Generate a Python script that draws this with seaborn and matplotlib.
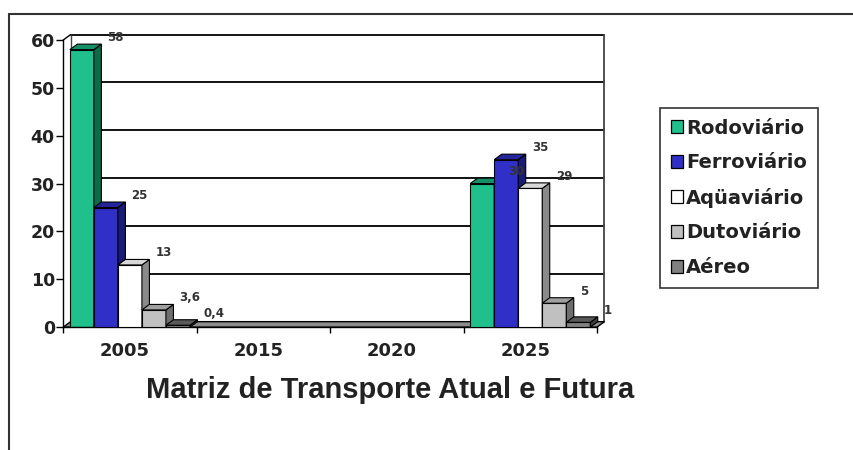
import numpy as np
import pandas as pd
import matplotlib
matplotlib.use("Agg")
import matplotlib.pyplot as plt
import matplotlib.transforms as mtransforms
import seaborn as sns
from matplotlib.patches import Polygon
from matplotlib.lines import Line2D

# Transport matrix: share (%) by mode, current and future
years = ["2005", "2015", "2020", "2025"]
modes = ["Rodoviário", "Ferroviário", "Aqüaviário", "Dutoviário", "Aéreo"]
rodoviario = [58, np.nan, np.nan, 30]
ferroviario = [25, np.nan, np.nan, 35]
aquaviario = [13, np.nan, np.nan, 29]
dutoviario = [3.6, np.nan, np.nan, 5]
aereo = [0.4, np.nan, np.nan, 1]
series = [rodoviario, ferroviario, aquaviario, dutoviario, aereo]
y_ticks = [0, 10, 20, 30, 40, 50, 60]

front_colors = ["#1fc08c", "#3030c8", "#ffffff", "#c0c0c0", "#808080"]
side_colors = ["#0f6a4a", "#1a1a78", "#8a8a8a", "#6e6e6e", "#3c3c3c"]
top_colors = ["#158f66", "#24249c", "#d8d8d8", "#a0a0a0", "#5a5a5a"]

rows = []
for m, vals in zip(modes, series):
    for y, v in zip(years, vals):
        if not np.isnan(v):
            rows.append({"Ano": y, "Modal": m, "Valor": v})
df = pd.DataFrame(rows)

sns.set_theme(style="white")
plt.rcParams["font.family"] = ["Liberation Sans", "DejaVu Sans"]
wide = ["DejaVu Sans"]

fig = plt.figure(figsize=(8.54, 4.5), dpi=100)
ax = fig.add_axes([0.074, 0.273, 0.625, 0.638])

sns.barplot(data=df, x="Ano", y="Valor", hue="Modal", order=years,
            hue_order=modes, palette=front_colors, width=0.9, saturation=1,
            edgecolor="black", linewidth=0.8, legend=False, ax=ax,
            errorbar=None)

ax.set_xlim(-0.5, 3.5)
ax.set_ylim(0, 60)
ax.set_yticks(y_ticks)

# depth of the 3D effect, converted from pixels to data units
fig.canvas.draw()
inv = ax.transData.inverted()
p0 = inv.transform(ax.transData.transform((0, 0)))
p1 = inv.transform(ax.transData.transform((0, 0)) + np.array([7.5, 5.5]))
dx, dy = p1 - p0
px = inv.transform(ax.transData.transform((0, 0)) + np.array([6, 0]))[0] - p0[0]

# back wall and floor
for t in y_ticks[1:]:
    ax.add_line(Line2D([-0.5 + dx, 3.5 + dx], [t + dy, t + dy], color="black",
                       lw=1.3, zorder=0.5, clip_on=False))
ax.add_line(Line2D([-0.5 + dx, -0.5 + dx], [dy, 60 + dy], color="#444444",
                   lw=1.0, zorder=0.5, clip_on=False))
ax.add_line(Line2D([3.5 + dx, 3.5 + dx], [dy, 60 + dy], color="#444444",
                   lw=1.3, zorder=0.5, clip_on=False))
ax.add_line(Line2D([-0.5, -0.5 + dx], [60, 60 + dy], color="black",
                   lw=1.0, zorder=0.5, clip_on=False))
ax.add_patch(Polygon([(-0.5, 0), (3.5, 0), (3.5 + dx, dy), (-0.5 + dx, dy)],
                     closed=True, facecolor="#8c8c8c", edgecolor="black",
                     lw=1.0, zorder=0.8, clip_on=False))

# 3D faces and value labels for every bar
bars = [p for p in ax.patches if hasattr(p, "get_height")
        and np.isfinite(p.get_height()) and p.get_height() > 0]
bars.sort(key=lambda p: p.get_x())
for rank, p in enumerate(bars):
    x0, w, h = p.get_x(), p.get_width(), p.get_height()
    cx = x0 + w / 2
    cat = int(round(cx))
    hi = int(round((cx - cat + 0.45 - w / 2) / w))
    z = 2 + rank * 2
    p.set_zorder(z)
    x1 = x0 + w
    side = Polygon([(x1, 0), (x1, h), (x1 + dx, h + dy), (x1 + dx, dy)],
                   closed=True, facecolor=side_colors[hi], edgecolor="black",
                   lw=0.8, zorder=z + 0.5, clip_on=False)
    top = Polygon([(x0, h), (x1, h), (x1 + dx, h + dy), (x0 + dx, h + dy)],
                  closed=True, facecolor=top_colors[hi], edgecolor="black",
                  lw=0.8, zorder=z + 0.5, clip_on=False)
    ax.add_patch(side)
    ax.add_patch(top)
    label = f"{h:g}".replace(".", ",")
    ax.text(x1 + dx + px, h + dy + 1.4, label, ha="left", va="center",
            fontsize=8.5, fontweight="bold", color="#333333", zorder=100,
            family=wide)

# axes styling
for s in ["top", "right"]:
    ax.spines[s].set_visible(False)
ax.spines["left"].set_color("black")
ax.spines["bottom"].set_color("black")
ax.spines["left"].set_linewidth(1.0)
ax.spines["bottom"].set_linewidth(1.0)
ax.set_xlabel("")
ax.set_ylabel("")
ax.set_xticks(range(len(years)))
ax.set_xticklabels(years)
ax.set_xticks([-0.5, 0.5, 1.5, 2.5, 3.5], minor=True)
ax.tick_params(axis="x", which="major", length=0, pad=11, labelsize=13)
ax.tick_params(axis="x", which="minor", length=4, width=1, color="black",
               direction="out", bottom=True)
ax.tick_params(axis="y", length=5, width=1, color="black", direction="out",
               left=True, labelsize=12.5, pad=1)
shift = mtransforms.ScaledTranslation(-5 / 100, 0, fig.dpi_scale_trans)
for lab in ax.get_xticklabels():
    lab.set_transform(lab.get_transform() + shift)
for lab in ax.get_xticklabels() + ax.get_yticklabels():
    lab.set_fontweight("bold")
    lab.set_color("#222222")
    lab.set_family(wide)

fig.text(0.457, 0.133, "Matriz de Transporte Atual e Futura", ha="center",
         va="center", fontsize=21, fontweight="bold", color="#222222")

# legend
handles = [plt.Rectangle((0, 0), 1, 1, facecolor=c, edgecolor="black", lw=0.9)
           for c in front_colors]
leg = fig.legend(handles, modes, loc="upper left",
                 bbox_to_anchor=(0.773, 0.76), frameon=True, fancybox=False,
                 handlelength=0.65, handleheight=0.65, handletextpad=0.15,
                 labelspacing=0.8, borderpad=0.55, borderaxespad=0,
                 prop={"weight": "bold", "size": 14, "family": wide})
for t in leg.get_texts():
    t.set_color("#222222")
leg.get_frame().set_edgecolor("black")
leg.get_frame().set_linewidth(1.2)

# outer frame
fig.add_artist(Line2D([9 / 854, 9 / 854], [0, 1 - 14 / 450],
                      transform=fig.transFigure, color="#333333", lw=1.5))
fig.add_artist(Line2D([9 / 854, 1], [1 - 14 / 450, 1 - 14 / 450],
                      transform=fig.transFigure, color="#333333", lw=1.5))

fig.savefig("out.png", dpi=100, facecolor="white")
